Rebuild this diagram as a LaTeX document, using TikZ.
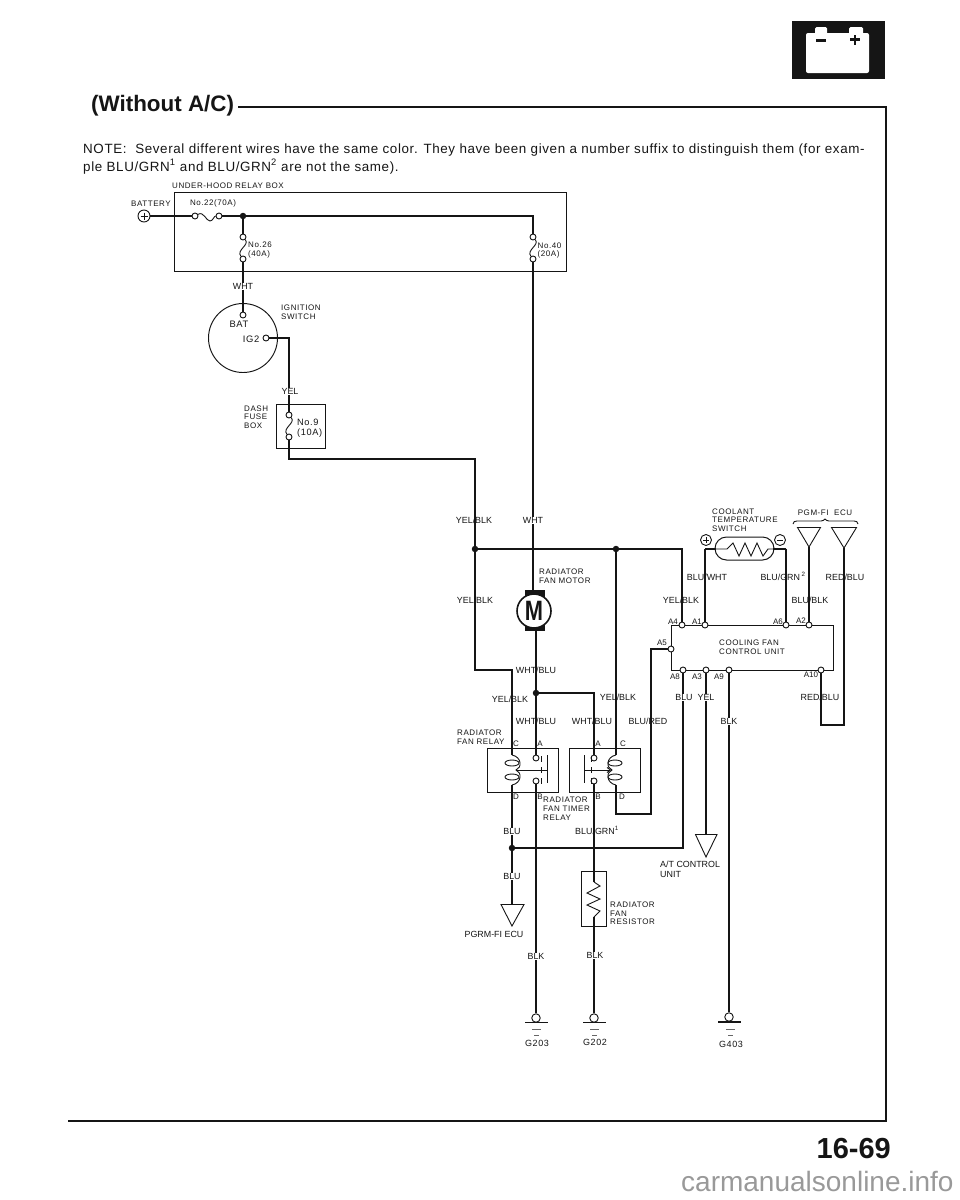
\documentclass[tikz,border=0pt]{standalone}
\usepackage{fontspec}
\usetikzlibrary{shapes.misc}
\setmainfont{Liberation Sans}
\newfontfamily\spaced[LetterSpace=7]{Liberation Sans}
\newfontfamily\notef[LetterSpace=4.6]{Liberation Sans}
\definecolor{ink}{HTML}{151515}
\tikzset{
  wire/.style={draw=ink,line width=1.4pt,line join=miter},
  thinl/.style={draw=ink,line width=0.9pt},
  boxl/.style={draw=ink,line width=1pt},
  term/.style={circle,draw=ink,fill=white,line width=0.9pt,minimum size=6pt,inner sep=0pt},
  gterm/.style={circle,draw=ink,fill=white,line width=0.9pt,minimum size=8.5pt,inner sep=0pt},
  dotj/.style={circle,fill=ink,minimum size=6.5pt,inner sep=0pt},
  lab/.style={font=\fontsize{8.9}{10}\selectfont,text=ink,inner sep=0.3pt,text height=6.4pt,text depth=0pt},
  labw/.style={lab,fill=white},
  sm/.style={font=\fontsize{8}{8.7}\selectfont\spaced,text=ink,inner sep=0pt,align=left,anchor=west},
  ss/.style={font=\fontsize{8}{8.7}\selectfont\spaced,text=ink,inner sep=0pt,text height=5.8pt,text depth=0pt},
  tt/.style={font=\fontsize{8}{8.7}\selectfont,text=ink,inner sep=0pt,text height=5.8pt,text depth=0pt},
  gl/.style={font=\fontsize{9}{10}\selectfont\spaced,text=ink,inner sep=0pt,text height=6.4pt,text depth=0pt},
}
\begin{document}
\begin{tikzpicture}[x=1pt,y=-1pt]
\useasboundingbox (0,0) rectangle (960,1200);
% page furniture
\fill[ink] (792,21) rectangle (885,79);
\fill[white,rounded corners=2pt] (806,33) rectangle (869,73);
\fill[white,rounded corners=1.5pt] (815,27) rectangle (827,36);
\fill[white,rounded corners=1.5pt] (849,27) rectangle (863,36);
\fill[ink] (816,38.5) rectangle (826,41.5);
\fill[ink] (850,38) rectangle (860,41);
\fill[ink] (853.7,34.5) rectangle (856.3,44.5);
\node[anchor=base west,inner sep=0pt,font=\fontsize{22.4}{24}\selectfont\bfseries,text=ink] (title) at (91,111) {(Without A/C)};
\coordinate (frA) at (238,107);
\coordinate (frB) at (886,107);
\coordinate (frC) at (886,1121);
\coordinate (frD) at (68,1121);
\draw[draw=ink,line width=1.1pt] (frA) -- (frB) -- (frC) -- (frD);
\node[anchor=base west,inner sep=0pt,font=\fontsize{13.4}{14}\selectfont\notef,text=ink] (note1) at (83,153) {NOTE:\ \ Several different wires have the same color. They have been given a number suffix to distinguish them (for exam-};
\node[anchor=base west,inner sep=0pt,font=\fontsize{13.4}{14}\selectfont\notef,text=ink] (note2) at (83,171) {ple BLU/GRN\textsuperscript{1} and BLU/GRN\textsuperscript{2} are not the same).};
\node[anchor=base east,inner sep=0pt,font=\fontsize{29}{30}\selectfont\bfseries,text=ink] (pageno) at (891,1158) {16-69};
\node[anchor=base west,inner sep=0pt,font=\fontsize{28}{30}\selectfont,text=black!40] (mark) at (681,1191) {carmanualsonline.info};

% under-hood relay box
\draw[boxl] (174.5,192.5) rectangle (566.5,271.5);
\node[ss,anchor=west] (lUH) at (172,185.5) {UNDER-HOOD RELAY BOX};
\node[circle,draw=ink,line width=0.9pt,minimum size=12pt,inner sep=0pt] (batt) at (144,216) {};
\draw[thinl] (140.5,216) -- (147.5,216) (144,212.5) -- (144,219.5);
\node[ss] (lBatt) at (151,204) {BATTERY};
\node[ss] (l22) at (213,203) {No.22(70A)};
\node[term] (f22a) at (195,216) {};
\node[term] (f22b) at (219,216) {};
\node[dotj] (j1) at (243,216) {};
\node[term] (f26a) at (243,237) {};
\node[term] (f26b) at (243,259) {};
\node[term] (f40a) at (533,237) {};
\node[term] (f40b) at (533,259) {};
\draw[thinl] (f22a) .. controls (204,211) and (206,221) .. (210,221) .. controls (213,221) and (214,216) .. (f22b);
\draw[thinl] (f26a) .. controls (250,245) and (236,250) .. (f26b);
\draw[thinl] (f40a) .. controls (540,245) and (526,250) .. (f40b);
\draw[wire] (batt) -- (f22a);
\draw[wire] (f22b) -- (j1);
\draw[wire] (j1) -| (f40a);
\draw[wire] (j1) -- (f26a);
\node[sm] (l26) at (248,250) {No.26\\(40A)};
\node[sm] (l40) at (537.5,250.5) {No.40\\(20A)};

% ignition switch
\node[circle,draw=ink,line width=0.95pt,minimum size=69pt,inner sep=0pt] (igsw) at (243,338) {};
\node[term] (bat) at (243,315) {};
\node[term] (ig2) at (266,338) {};
\draw[wire] (f26b) -- (bat);
\node[labw] (lWht1) at (243,286) {WHT};
\node[lab,font=\fontsize{9.4}{10}\selectfont\spaced] (lBat) at (239,324) {BAT};
\node[lab,font=\fontsize{9.4}{10}\selectfont\spaced] (lIg2) at (251,339) {IG2};
\node[sm] (lIgn) at (281,312) {IGNITION\\SWITCH};

% dash fuse box
\draw[boxl] (276.5,404.5) rectangle (325.5,448.5);
\node[term] (f9a) at (289,415) {};
\node[term] (f9b) at (289,437) {};
\draw[thinl] (f9a) .. controls (296,423) and (282,428) .. (f9b);
\draw[wire] (ig2) -| (f9a);
\node[labw] (lYel1) at (290,391) {YEL};
\node[sm] (lDash) at (244,417) {DASH\\FUSE\\BOX};
\node[font=\fontsize{9.2}{10}\selectfont\spaced,text=ink,inner sep=0pt,align=left,anchor=west] (l9) at (297,428) {No.9\\(10A)};

% main wiring
\node[dotj] (j2) at (475,549) {};
\node[dotj] (j4) at (616,549) {};
\node[dotj] (j3) at (536,693) {};
\node[dotj] (j5) at (512,848) {};
\coordinate (c1) at (475,459);
\coordinate (c2) at (475,670);
\coordinate (rc1) at (512,755);
\coordinate (rc2) at (616,755);
\coordinate (rd1) at (512,785);
\coordinate (rd2) at (616,785);
\draw[wire] (f9b) |- (c1) -- (j2) -- (c2) -| (rc1);
\draw[wire] (j2) -- (j4);
\draw[wire] (j4) -- (rc2);

% motor
\coordinate (mtop) at (533,590);
\coordinate (mbot) at (536,630);
\draw[wire] (f40b) -- (mtop);
\draw[wire] (mbot) -- (j3);
\fill[ink] (524.5,590) rectangle (544.5,597);
\fill[ink] (524.5,623) rectangle (544.5,630.5);
\node[circle,draw=ink,fill=white,line width=1.6pt,minimum size=34pt,inner sep=0pt,text=ink] (motor) at (534,611) {\scalebox{0.78}[1]{\fontsize{28}{28}\selectfont\bfseries M}};
\node[sm] (lMotor) at (539,576) {RADIATOR\\FAN MOTOR};

% coolant switch and ECU
\node[rounded rectangle,draw=ink,line width=1pt,minimum width=59pt,minimum height=23pt,inner sep=0pt] (cts) at (744.5,548.5) {};
\coordinate (swl) at (705,549);
\coordinate (swr) at (786,549);
\draw[thinl] (swl) -- (727,549) -- (733,543) -- (739,556) -- (745,543) -- (751,556) -- (757,543) -- (763,556) -- (768,549) -- (swr);
\draw[wire] (swl) -- (716,549);
\draw[wire] (773,549) -- (swr);
\node[circle,draw=ink,line width=0.9pt,minimum size=11pt,inner sep=0pt] (cplus) at (706,540) {};
\draw[thinl] (703,540) -- (709,540) (706,537) -- (706,543);
\node[circle,draw=ink,line width=0.9pt,minimum size=11pt,inner sep=0pt] (cminus) at (780,540) {};
\draw[thinl] (777,540) -- (783,540);
\node[sm] (lCool) at (712,520) {COOLANT\\TEMPERATURE\\SWITCH};
\node[ss] (lPgm) at (825,513) {PGM-FI\ \ ECU};
\draw[thinl] (793,524) .. controls (793,521.5) and (795,521) .. (797,521) -- (821,521) .. controls (823,521) and (824,520) .. (825,519) .. controls (826,520) and (827,521) .. (829,521) -- (854,521) .. controls (856,521) and (858,521.5) .. (858,524);
\coordinate (t1a) at (809,547);
\coordinate (t2a) at (844,548);
\draw[thinl] (797.5,527.5) -- (820.5,527.5) -- (t1a) -- cycle;
\draw[thinl] (831.5,527.5) -- (856.5,527.5) -- (t2a) -- cycle;

% control unit
\draw[boxl] (671.5,625.5) rectangle (833.5,670.5);
\node[term] (a4) at (682,625) {};
\node[term] (a1) at (705,625) {};
\node[term] (a6) at (786,625) {};
\node[term] (a2) at (809,625) {};
\node[term] (a5) at (671,649) {};
\node[term] (a8) at (683,670) {};
\node[term] (a3) at (706,670) {};
\node[term] (a9) at (729,670) {};
\node[term] (a10) at (821,670) {};
\draw[wire] (j4) -| (a4);
\draw[wire] (swl) -- (a1);
\draw[wire] (swr) -- (a6);
\draw[wire] (t1a) -- (a2);
\coordinate (c4) at (844,725);
\coordinate (c5) at (821,725);
\draw[wire] (t2a) -- (c4) -- (c5) -- (a10);
\coordinate (c6) at (651,649);
\coordinate (c7) at (651,814);
\coordinate (c8) at (616,814);
\draw[wire] (a5) -- (c6) -- (c7) -- (c8) -- (rd2);
\coordinate (c9) at (683,848);
\draw[wire] (a8) -- (c9) -- (j5);
\draw[wire] (rd1) -- (j5);
\node[sm] (lCfc) at (719,647.5) {COOLING FAN\\CONTROL UNIT};
\node[tt] (lA4) at (673,622) {A4};
\node[tt] (lA1) at (697,622) {A1};
\node[tt] (lA6) at (778,622) {A6};
\node[tt] (lA2) at (801,621) {A2};
\node[tt] (lA5) at (662,643) {A5};
\node[tt] (lA8) at (675,677) {A8};
\node[tt] (lA3) at (697,677) {A3};
\node[tt] (lA9) at (719,677) {A9};
\node[tt] (lA10) at (811,675) {A10};

% relays
\draw[boxl] (487.5,748.5) rectangle (558.5,792.5);
\draw[boxl] (569.5,748.5) rectangle (640.5,792.5);
\node[term] (r1a) at (536,758) {};
\node[term] (r1b) at (536,781) {};
\node[term] (r2a) at (594,758) {};
\node[term] (r2b) at (594,781) {};
\draw[wire] (j3) -- (r1a);
\draw[wire] (j3) -| (r2a);
% coil 1
\draw[thinl] (rc1) .. controls (522,757) and (522,768) .. (516,770) .. controls (522,772) and (522,783) .. (rd1);
\draw[thinl] (512,763) ellipse [x radius=7pt,y radius=3pt];
\draw[thinl] (512,777) ellipse [x radius=7pt,y radius=3pt];
\draw[thinl] (516,770) -- (547,770);
\draw[boxl] (547,755) -- (547,783);
\draw[thinl] (541,756) -- (541,762) (541,767) -- (541,773) (541,778) -- (541,784);
% coil 2
\draw[thinl] (rc2) .. controls (606,757) and (606,768) .. (612,770) .. controls (606,772) and (606,783) .. (rd2);
\draw[thinl] (615,763) ellipse [x radius=7pt,y radius=3pt];
\draw[thinl] (615,777) ellipse [x radius=7pt,y radius=3pt];
\draw[thinl] (584,770) -- (610,770);
\draw[thinl] (607,767.5) -- (610.5,770) -- (607,772.5);
\draw[boxl] (584,755) -- (584,783);
\draw[thinl] (591,756) -- (591,762) (591,767) -- (591,773) (591,778) -- (591,784);
\node[sm] (lFr) at (457,737) {RADIATOR\\FAN RELAY};
\node[sm] (lTimer) at (543,808.5) {RADIATOR\\FAN TIMER\\RELAY};
\node[tt] (lC1) at (516,744) {C};
\node[tt] (lA1r) at (540,744) {A};
\node[tt] (lA2r) at (598,744) {A};
\node[tt] (lC2) at (623,744) {C};
\node[tt] (lD1) at (516,797) {D};
\node[tt] (lB1) at (540,797) {B};
\node[tt] (lB2) at (598,797) {B};
\node[tt] (lD2) at (622,797) {D};

% triangles
\coordinate (t3a) at (512,904);
\draw[wire] (j5) -- (t3a);
\draw[thinl] (501,904.5) -- (524,904.5) -- (512,926) -- cycle;
\coordinate (t4a) at (706,834);
\draw[wire] (a3) -- (t4a);
\draw[thinl] (695.5,834.5) -- (717,834.5) -- (706,857) -- cycle;

% resistor
\draw[boxl] (581.5,871.5) rectangle (606.5,926.5);
\coordinate (zs) at (594,882);
\coordinate (ze) at (594,917);
\draw[wire] (r2b) -- (zs);
\draw[thinl] (zs) -- (600,886) -- (587,893) -- (600,899) -- (587,905) -- (600,911) -- (ze);

% grounds
\node[gterm] (g1) at (536,1018) {};
\node[gterm] (g2) at (594,1018) {};
\node[gterm] (g3) at (729,1017) {};
\draw[wire] (r1b) -- (g1);
\draw[wire] (ze) -- (g2);
\draw[wire] (a9) -- (g3);
\draw[boxl] (525,1022.5) -- (548,1022.5) (583,1022.5) -- (606,1022.5);
\draw[line width=1.4pt,draw=ink] (718,1022) -- (741,1022);
\draw[draw=black!60,line width=0.7pt] (532,1029) -- (541,1029) (534,1035) -- (539,1035) (590,1029) -- (599,1029) (592,1035) -- (597,1035) (726,1029) -- (735,1029) (728,1035) -- (733,1035);
\node[gl] (lG203) at (537,1043) {G203};
\node[gl] (lG202) at (595,1042) {G202};
\node[gl] (lG403) at (731,1044) {G403};

% wire labels
\node[lab] (w1) at (474,520) {YEL/BLK};
\node[labw] (w2) at (533,520) {WHT};
\node[lab] (w3) at (475,600) {YEL/BLK};
\node[lab] (w4) at (707,577) {BLU/WHT};
\node[lab] (w5) at (783,577) {BLU/GRN\,\textsuperscript{2}};
\node[lab] (w6) at (845,577) {RED/BLU};
\node[lab] (w7) at (681,600) {YEL/BLK};
\node[lab] (w8) at (810,600) {BLU/BLK};
\node[lab] (w9) at (536,670) {WHT/BLU};
\node[lab] (w10) at (510,699) {YEL/BLK};
\node[lab] (w11) at (618,697) {YEL/BLK};
\node[labw] (w12) at (684,697) {BLU};
\node[labw] (w13) at (706,697) {YEL};
\node[lab] (w14) at (820,697) {RED/BLU};
\node[lab] (w15) at (536,721) {WHT/BLU};
\node[lab] (w16) at (592,721) {WHT/BLU};
\node[lab] (w17) at (648,721) {BLU/RED};
\node[labw] (w18) at (729,721) {BLK};
\node[labw] (w19) at (512,831) {BLU};
\node[lab] (w20) at (597,831) {BLU/GRN\textsuperscript{1}};
\node[labw] (w21) at (512,876) {BLU};
\node[sm,font=\fontsize{8.9}{10}\selectfont] (lAt) at (660,869) {A/T CONTROL\\UNIT};
\node[lab] (lPgrm) at (494,934) {PGRM-FI ECU};
\node[sm] (lRes) at (610,913.5) {RADIATOR\\FAN\\RESISTOR};
\node[labw] (w22) at (536,956) {BLK};
\node[labw] (w23) at (595,955) {BLK};
\end{tikzpicture}
\end{document}
